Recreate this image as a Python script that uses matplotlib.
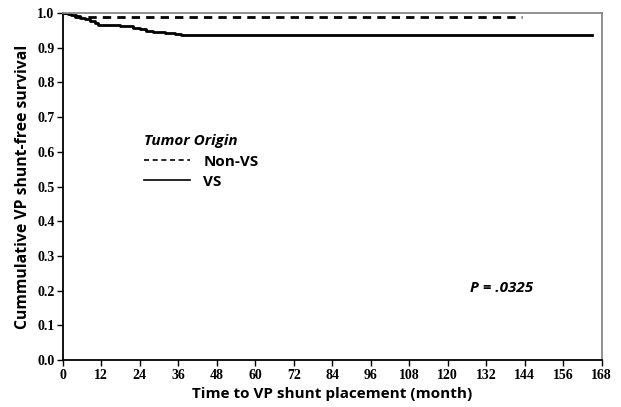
import matplotlib
matplotlib.use("Agg")
import matplotlib.pyplot as plt
import numpy as np

# Kaplan-Meier step data (months, survival)
nonvs_t = [0, 3.7, 143]
nonvs_s = [1.0, 0.989, 0.989]

vs_t = [0, 1.5, 2.5, 4, 5.5, 7, 8.5, 10, 11, 18, 22, 24, 26, 28, 32, 35, 37, 165]
vs_s = [1.0, 0.997, 0.993, 0.990, 0.986, 0.982, 0.977, 0.971, 0.966,
        0.963, 0.958, 0.954, 0.948, 0.945, 0.943, 0.940, 0.936, 0.936]

x_ticks = np.arange(0, 169, 12)
y_ticks = np.round(np.arange(0, 1.01, 0.1), 1)

SANS = ["Open Sans", "DejaVu Sans"]

fig = plt.figure(figsize=(6.21, 4.07), dpi=100)
ax = fig.add_axes([0.101, 0.115, 0.868, 0.853])

ax.step(nonvs_t, nonvs_s, where="post", color="black", lw=2.0,
        linestyle=(0, (3.0, 2.2)), label="Non-VS")
ax.step(vs_t, vs_s, where="post", color="black", lw=2.0, label="VS")

ax.set_xlim(0, 168)
ax.set_ylim(0, 1.0)
ax.set_xticks(x_ticks)
ax.set_yticks(y_ticks)
ax.set_xticklabels([str(t) for t in x_ticks], family="Liberation Serif",
                   fontweight="bold", fontsize=10)
ax.set_yticklabels([f"{v:.1f}" for v in y_ticks], family="Liberation Serif",
                   fontweight="bold", fontsize=10)
ax.tick_params(direction="out", length=4, width=1, pad=2)

for side in ("top", "right"):
    ax.spines[side].set_color("#888888")
    ax.spines[side].set_linewidth(1.3)
for side in ("left", "bottom"):
    ax.spines[side].set_linewidth(1.3)

ax.set_xlabel("Time to VP shunt placement (month)", family=SANS,
              fontweight="bold", fontsize=11, labelpad=4)
ax.set_ylabel("Cummulative VP shunt-free survival", family=SANS,
              fontweight="bold", fontsize=11.3, labelpad=4)

leg = ax.legend(title="Tumor Origin", loc="upper left",
                bbox_to_anchor=(0.125, 0.69), frameon=False,
                handlelength=3.0, handletextpad=0.9, labelspacing=0.4,
                alignment="left",
                prop={"family": SANS, "weight": "bold", "size": 11})
leg.get_title().set_fontproperties(
    {"family": SANS, "weight": "bold", "style": "italic", "size": 11})
for h in leg.get_lines():
    h.set_linewidth(1.2)

ax.text(0.755, 0.195, "P = .0325", transform=ax.transAxes,
        family=SANS, fontweight="bold", fontstyle="italic", fontsize=11)

fig.savefig("out.png", dpi=100)
